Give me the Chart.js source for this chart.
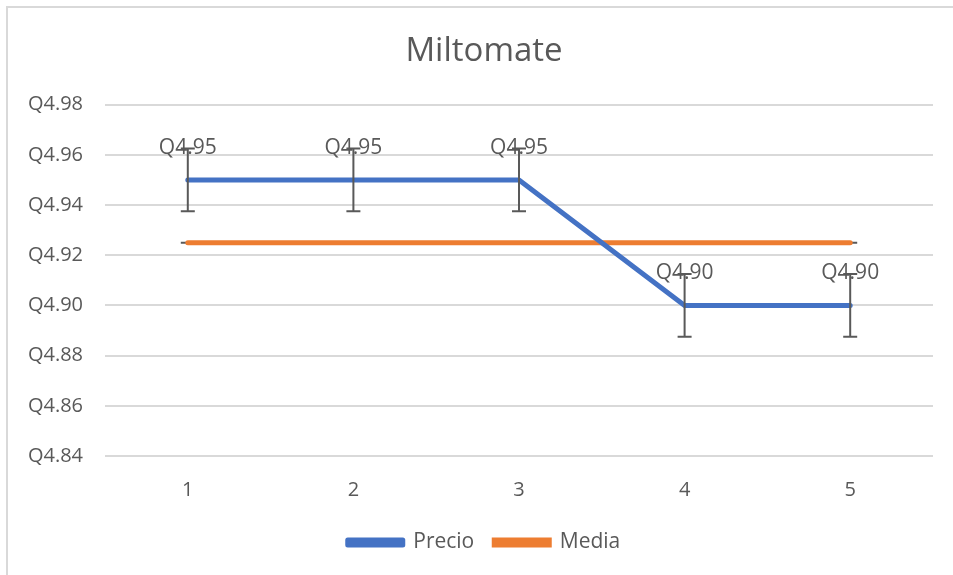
<!DOCTYPE html>
<html>
<head>
<meta charset="utf-8">
<script src="https://cdn.jsdelivr.net/npm/chart.js@4.4.1/dist/chart.umd.min.js"></script>
<style>
  html, body { margin: 0; padding: 0; background: #fff; }
  #wrap { position: relative; width: 953px; height: 575px; }
</style>
</head>
<body>
<div id="wrap"><canvas id="ch" width="953" height="575"></canvas></div>
<script>
// data
const categories = ['1', '2', '3', '4', '5'];
const precio = [4.95, 4.95, 4.95, 4.90, 4.90];
const precioErr = [0.0125, 0.0125, 0.0125, 0.0125, 0.0125];
const media = [4.925, 4.925, 4.925, 4.925, 4.925];
const mediaErr = [0, 0, 0, 0, 0];
const yTicks = [4.84, 4.86, 4.88, 4.90, 4.92, 4.94, 4.96, 4.98];

const FONT = "'Open Sans', sans-serif";
const TXT = '#595959';
const GRID = '#d9d9d9';

function drawErr(chart, vals, errs){
  const { ctx, scales: { x, y } } = chart;
  ctx.save();
  ctx.strokeStyle = '#595959';
  ctx.lineWidth = 2;
  vals.forEach((v, i) => {
    const px = x.getPixelForValue(i);
    const top = y.getPixelForValue(v + errs[i]);
    const bot = y.getPixelForValue(v - errs[i]);
    ctx.beginPath();
    if (errs[i] > 0) { ctx.moveTo(px, top); ctx.lineTo(px, bot); }
    ctx.moveTo(px - 7, top); ctx.lineTo(px + 7, top);
    ctx.moveTo(px - 7, bot); ctx.lineTo(px + 7, bot);
    ctx.stroke();
  });
  ctx.restore();
}

const extras = {
  id: 'extras',
  beforeDraw(chart){
    const { ctx } = chart;
    ctx.save();
    ctx.fillStyle = '#fff';
    ctx.fillRect(0, 0, chart.width, chart.height);
    ctx.strokeStyle = GRID;
    ctx.lineWidth = 2;
    ctx.beginPath();
    ctx.moveTo(7, chart.height); ctx.lineTo(7, 7); ctx.lineTo(chart.width, 7);
    ctx.stroke();
    ctx.restore();
  },
  beforeDatasetsDraw(chart){ drawErr(chart, media, mediaErr); },
  afterDatasetsDraw(chart){
    drawErr(chart, precio, precioErr);
    const { ctx, scales: { x, y } } = chart;
    ctx.save();
    ctx.fillStyle = TXT;
    ctx.font = '21px ' + FONT;
    ctx.textAlign = 'center';
    ctx.textBaseline = 'middle';
    precio.forEach((v, i) => {
      ctx.fillText('Q' + v.toFixed(2), x.getPixelForValue(i), y.getPixelForValue(v) - 32);
    });
    ctx.restore();
  }
};

new Chart(document.getElementById('ch'), {
  type: 'line',
  data: {
    labels: categories,
    datasets: [
      { label: 'Precio', data: precio, borderColor: '#4472C4', backgroundColor: '#4472C4', borderWidth: 5, pointRadius: 0, borderCapStyle: 'round', borderJoinStyle: 'round', tension: 0 },
      { label: 'Media', data: media, borderColor: '#ED7D31', backgroundColor: '#ED7D31', borderWidth: 5, pointRadius: 0, borderCapStyle: 'round', tension: 0 }
    ]
  },
  options: {
    responsive: false,
    animation: false,
    layout: { padding: { left: 15, right: 0, top: 0, bottom: 12 } },
    plugins: {
      title: { display: true, text: 'Miltomate', color: TXT, font: { family: FONT, size: 33, weight: 'normal' }, padding: { top: 32, bottom: 33 } },
      legend: {
        position: 'bottom',
        labels: { color: TXT, font: { family: FONT, size: 21 }, boxWidth: 55, boxHeight: 5, padding: 20 }
      },
      tooltip: { enabled: false }
    },
    scales: {
      x: {
        offset: true,
        grid: { display: false, drawTicks: false },
        border: { display: false },
        ticks: { color: TXT, font: { family: FONT, size: 20 }, padding: 22 },
        afterFit(s){ s.height = 56; }
      },
      y: {
        min: 4.84, max: 4.98,
        grid: { color: GRID, lineWidth: 2, drawTicks: false },
        border: { display: false },
        afterBuildTicks(s){ s.ticks = yTicks.map(v => ({ value: v })); },
        ticks: { color: TXT, font: { family: FONT, size: 20 }, padding: 22, callback: v => 'Q' + Number(v).toFixed(2) },
        afterFit(s){ s.width = 90; }
      },
      // empty right margin so title/legend centre like the original
      yr: {
        position: 'right',
        grid: { display: false, drawTicks: false },
        border: { display: false },
        ticks: { display: false },
        afterFit(s){ s.width = 20; }
      }
    }
  },
  plugins: [extras]
});
</script>
</body>
</html>
